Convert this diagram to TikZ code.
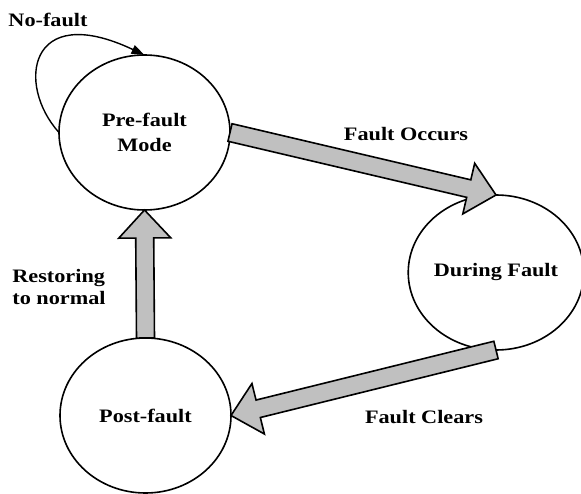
\documentclass[tikz,border=0pt]{standalone}
\usepackage{fontspec}
\setmainfont{Liberation Serif}[FakeStretch=1.17]
\usetikzlibrary{shapes.geometric, arrows.meta, calc}
\definecolor{arrowgray}{RGB}{192,192,192}
\tikzstyle{state} = [ellipse, draw=black, line width=1.6pt, fill=white, minimum width=171pt, minimum height=155pt, inner sep=0pt, outer sep=0pt, align=center]
\tikzstyle{fat} = [draw=black, line width=1.6pt, fill=arrowgray, line join=miter]
\tikzstyle{loop} = [-{Triangle[length=13pt, width=9pt]}, line width=1.4pt]
% wide grey arrow from #1 to #2
\newcommand{\fatarrow}[2]{%
  \coordinate (hb) at ($(#2)!28pt!(#1)$);
  \draw [fat] ($(#1)!9pt!90:(#2)$) -- ($(hb)!9pt!90:(#2)$) -- ($(hb)!26pt!90:(#2)$) -- (#2)
    -- ($(hb)!26pt!-90:(#2)$) -- ($(hb)!9pt!-90:(#2)$) -- ($(#1)!9pt!-90:(#2)$) -- cycle;}

\begin{document}
\begin{tikzpicture}[x=1pt, y=-1pt, font=\fontsize{19}{22}\selectfont\bfseries]

    \useasboundingbox (0, 0) rectangle (581, 494);

    \node (pre) [state] at (144.5, 132.5) {Pre-fault\\[3pt]Mode};
    \node (during) [state, minimum width=168pt] at (496, 272.5) {During Fault};
    \node (post) [state] at (145.5, 415.5) {Post-fault};

    \node (nofault) at (48, 20) {No-fault};
    \node (occurs) at (406, 134) {Fault Occurs};
    \node (restore) [align=left] at (59, 287) {Restoring\\to normal};
    \node (clears) at (424, 417) {Fault Clears};

    \draw [loop] (pre.west) .. controls (16, 85) and (28, 0) .. (pre.north);

    \fatarrow{pre.east}{during.north}
    \fatarrow{during.south}{post.east}
    \fatarrow{post.north}{pre.south}

\end{tikzpicture}
\end{document}
